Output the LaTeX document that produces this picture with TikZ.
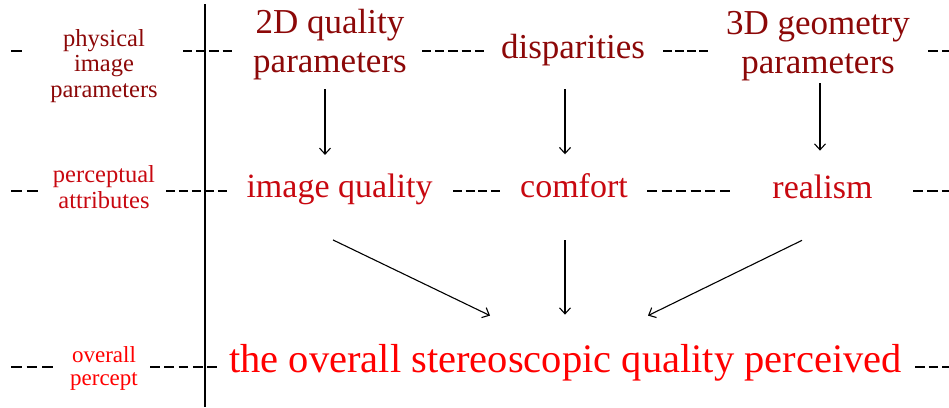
\documentclass[tikz,border=0pt]{standalone}
\usepackage{fontspec}
\setmainfont{Liberation Serif}
\usetikzlibrary{arrows.meta,calc}
\definecolor{topred}{RGB}{140,8,8}
\definecolor{midred}{RGB}{200,8,16}
\definecolor{lowred}{RGB}{255,0,0}
% #1 = start x, #2 = end x, #3 = y, #4 = number of hyphens
\newcommand\dashrun[4]{%
  \pgfmathsetmacro\dashper{(#2-#1)/(#4-0.3)}%
  \foreach \i in {1,...,#4}{%
    \draw[hyph] ({#1+(\i-1)*\dashper},#3) -- ++({0.7*\dashper},0);}%
}
\begin{document}
\begin{tikzpicture}[x=1pt,y=-1pt,
  txt/.style={inner sep=0pt, outer sep=0pt, anchor=base, align=center},
  toptxt/.style={txt, text=topred, font=\fontsize{35}{39}\selectfont},
  midtxt/.style={txt, text=midred, font=\fontsize{34}{39}\selectfont},
  lowtxt/.style={txt, text=lowred, font=\fontsize{40.5}{46}\selectfont},
  lbl/.style={txt, font=\fontsize{24.5}{25.5}\selectfont},
  lblsmall/.style={txt, font=\fontsize{23}{22.5}\selectfont},
  hyph/.style={draw=black, line width=1.3pt},
  axis/.style={draw=black, line width=1.3pt},
  arr/.style={draw=black, line width=1.1pt, -{Straight Barb[length=6pt,width=11pt,line width=1.1pt]}}]
\useasboundingbox (0,0) rectangle (949,407);

% vertical separator
\coordinate (vtop) at (205,4);
\coordinate (vbot) at (205,407);
\draw[axis] (vtop) -- (vbot);

% level labels (anchor = baseline of the last line)
\node[lbl, text=topred] (lp) at (104,97) {physical\\image\\parameters};
\node[lbl, text=midred] (la) at (104,208) {perceptual\\attributes};
\node[lblsmall, text=lowred] (lo) at (104,385) {overall\\percept};

% top row
\node[toptxt] (n2d) at (330,72) {2D quality\\parameters};
\node[toptxt] (disp) at (573,58) {disparities};
\node[toptxt] (n3d) at (818,73) {3D geometry\\parameters};

% middle row
\node[midtxt] (iq) at (339.5,197) {image quality};
\node[midtxt] (co) at (574,197) {comfort};
\node[midtxt] (rl) at (822.5,198) {realism};

% bottom row
\node[lowtxt] (ov) at (565.5,372) {the overall stereoscopic quality perceived};

% hyphen runs
\dashrun{11}{22}{51}{1}
\dashrun{183}{232}{51}{4}
\dashrun{422}{484}{51}{5}
\dashrun{663}{708}{51}{4}
\dashrun{928}{952}{51}{2}

\dashrun{11}{38}{191}{2}
\dashrun{166}{227}{191}{5}
\dashrun{453}{500}{191}{4}
\dashrun{647}{730}{191}{6}
\dashrun{913}{952}{191}{3}

\dashrun{11}{53}{367}{3}
\dashrun{150}{217}{367}{5}
\dashrun{915}{952}{367}{3}

% arrows
\draw[arr] ($(n2d.south)+(-5,10)$) -- ($(iq.north)+(-14.5,-18.5)$);
\draw[arr] ($(disp.south)+(-8,24)$) -- ($(co.north)+(-9,-18.8)$);
\draw[arr] ($(n3d.south)+(2,3)$) -- ($(rl.north)+(-2.5,-23.8)$);
\draw[arr] ($(iq.south)+(-6.5,35.6)$) -- ($(ov.north)+(-75.5,-28.3)$);
\draw[arr] ($(co.south)+(-9,43)$) -- ($(ov.north)+(-0.5,-29.3)$);
\draw[arr] ($(rl.south)+(-20.5,42)$) -- ($(ov.north)+(82.5,-28.3)$);
\end{tikzpicture}
\end{document}
